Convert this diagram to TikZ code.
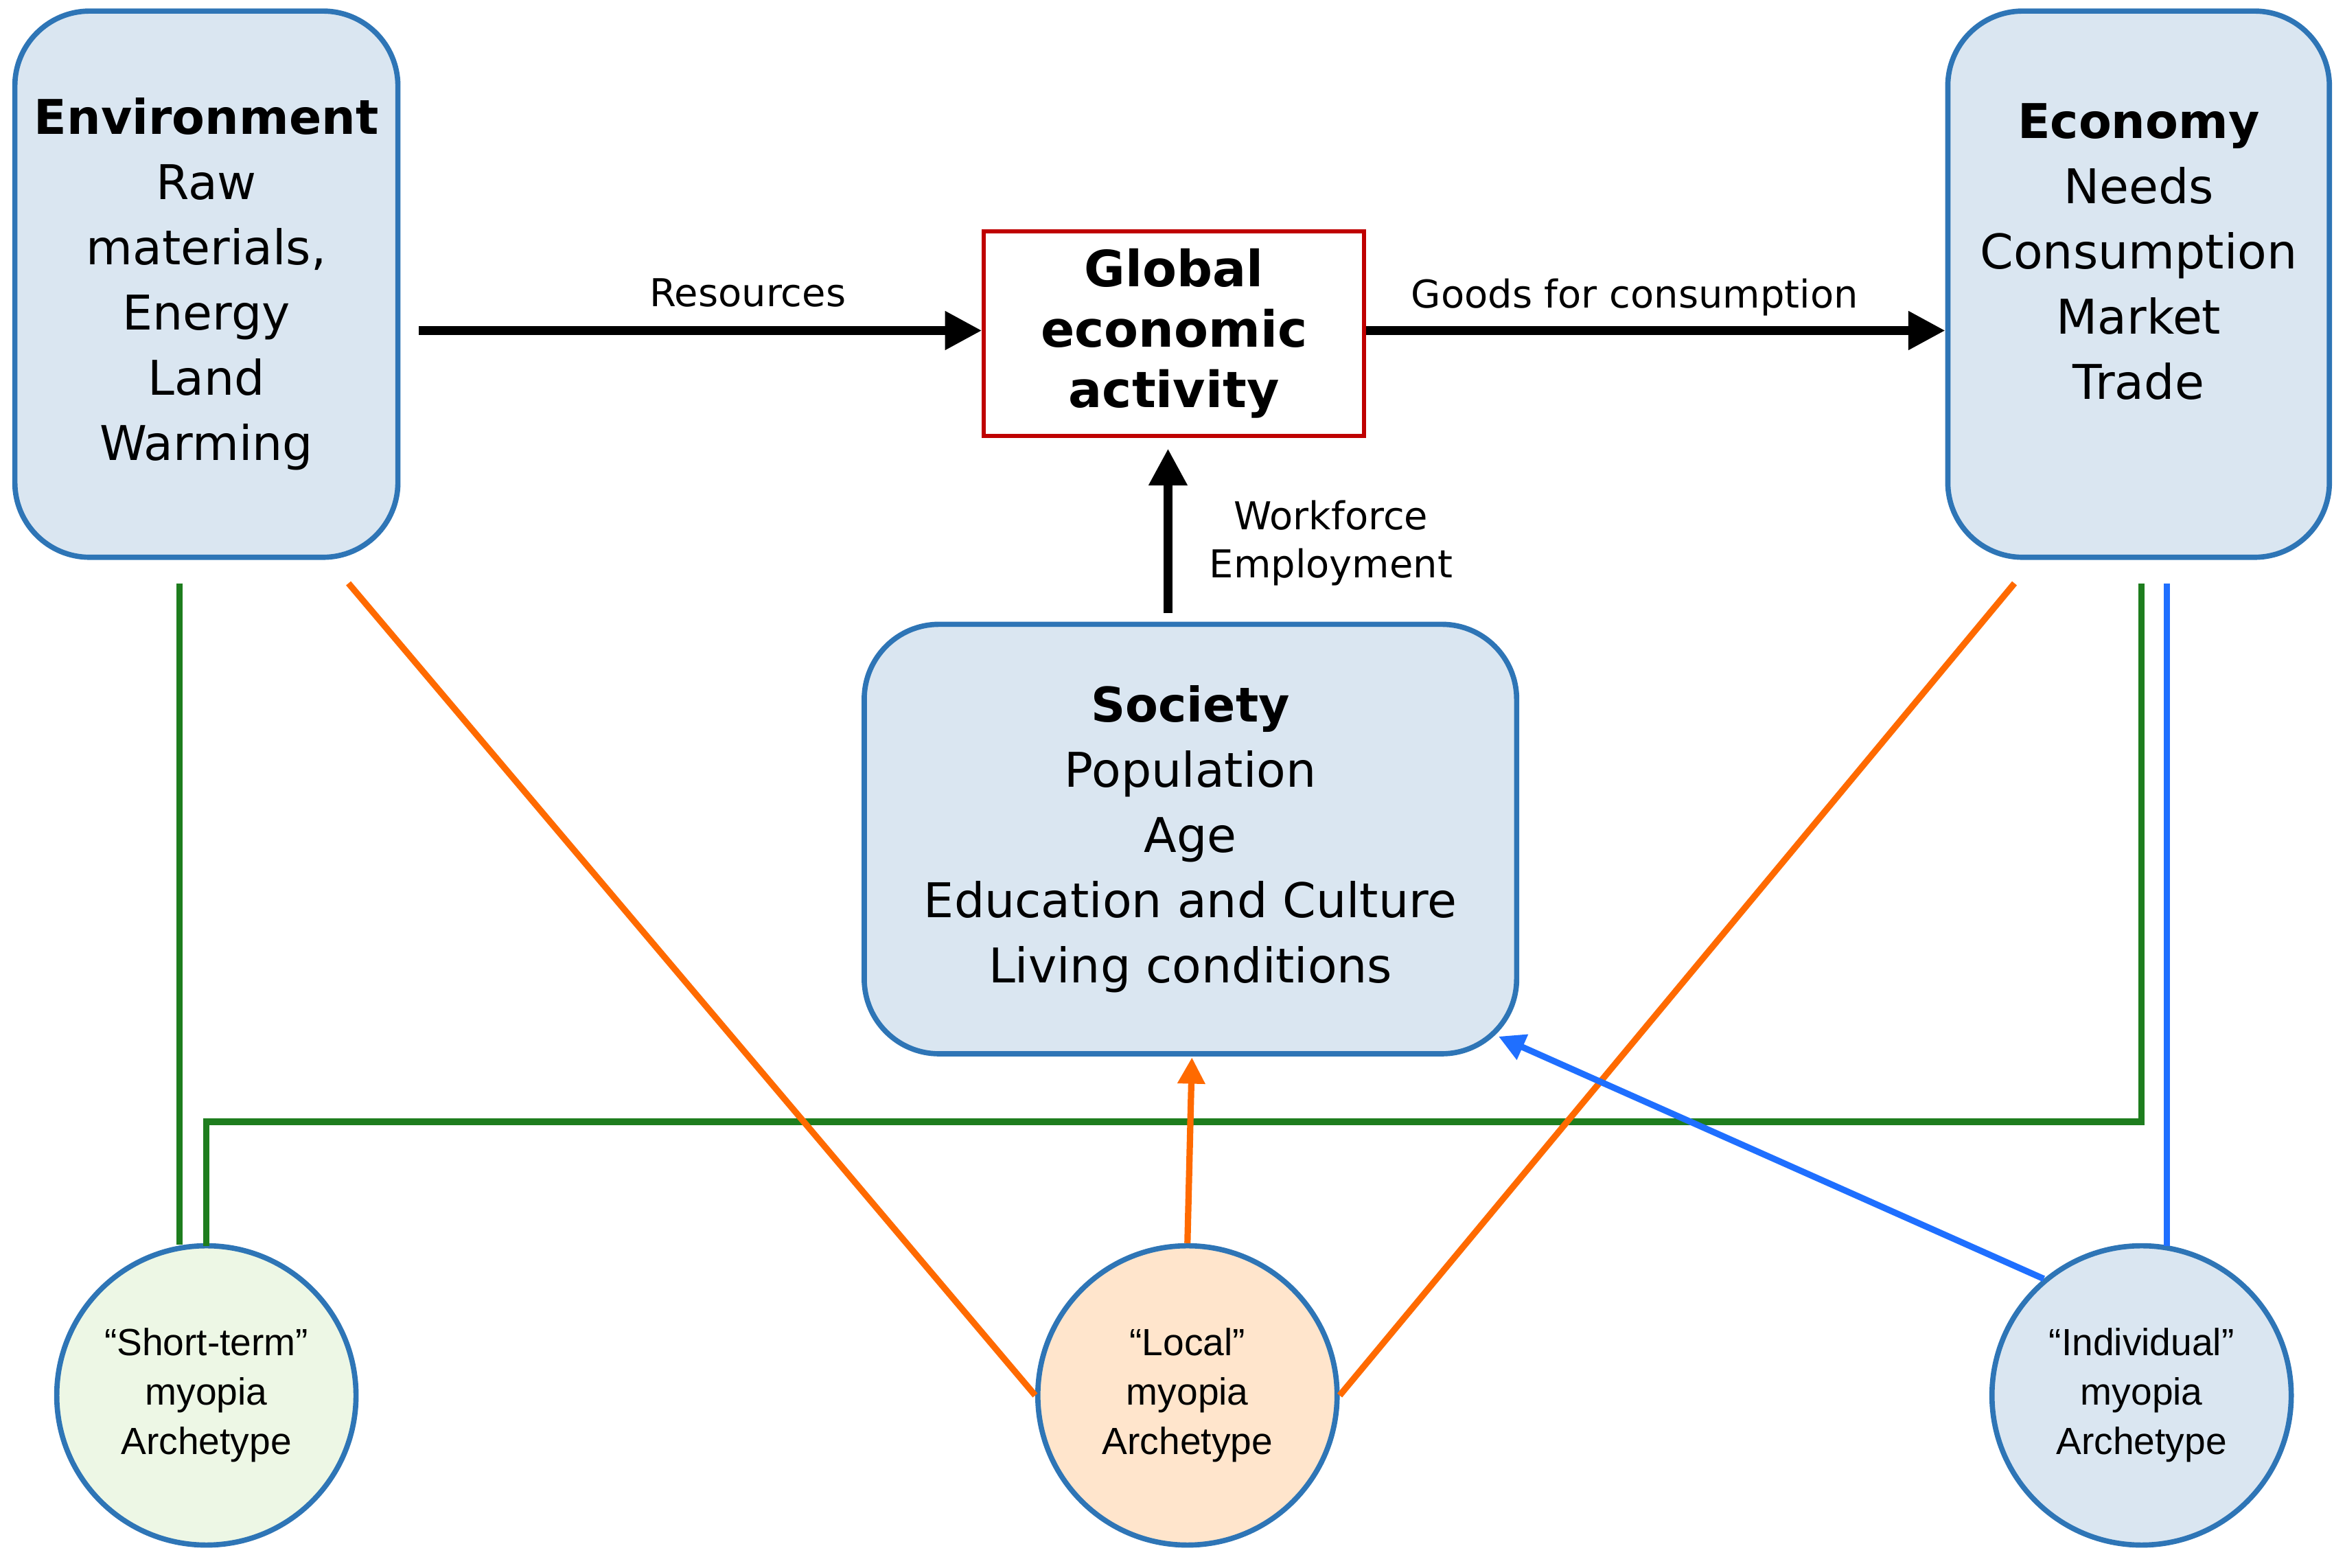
\documentclass[tikz,border=0pt]{standalone}
\usepackage{fontspec}
\setmainfont{DejaVu Sans}
\newfontfamily\arialf{Liberation Sans}
\usetikzlibrary{arrows.meta}
\definecolor{boxfill}{HTML}{DAE6F1}
\definecolor{boxline}{HTML}{2E75B6}
\definecolor{grn}{HTML}{1E7D1E}
\definecolor{org}{HTML}{FF6A00}
\definecolor{blu}{HTML}{1F6FFF}
\begin{document}
\begin{tikzpicture}[x=0.01cm,y=-0.01cm,
  bigbox/.style={draw=boxline,line width=1pt,fill=boxfill,rounded corners=0.5cm,align=center,font=\fontsize{9.1}{12.4}\selectfont},
  circ/.style={circle,draw=boxline,line width=1pt,minimum size=2cm,inner sep=0pt,align=center,font=\arialf\fontsize{7.2}{9.4}\selectfont},
  blk/.style={line width=1.6pt,-{Triangle[length=7pt,width=7pt]}},
  lbl/.style={font=\fontsize{7.3}{9.2}\selectfont,align=center},
  cl/.style={line width=1.2pt}]
\useasboundingbox (0,0) rectangle (1568,1048);
\node[bigbox,minimum width=2.56cm,minimum height=3.65cm] (env) at (138,190) {\textbf{Environment}\\Raw\\materials,\\Energy\\Land\\Warming};
\node[bigbox,minimum width=2.55cm,minimum height=3.65cm] (eco) at (1430,190) {\textbf{Economy}\\Needs\\Consumption\\Market\\Trade\\~};
\node[draw=red!75!black,line width=0.8pt,fill=white,minimum width=2.54cm,minimum height=1.31cm,align=center,font=\fontsize{9.5}{11.5}\selectfont\bfseries] (glob) at (785,223) {Global\\economic\\activity};
\node[bigbox,minimum width=4.36cm,minimum height=2.87cm] (soc) at (796,561) {\textbf{Society}\\Population\\Age\\Education and Culture\\Living conditions};
\node[circ,fill=green!40!olive!10] (st) at (138,933) {“Short-term”\\myopia\\Archetype};
\node[circ,fill=orange!20] (lo) at (794,933) {“Local”\\myopia\\Archetype};
\node[circ,fill=boxfill] (ind) at (1432,933) {“Individual”\\myopia\\Archetype};
% black arrows
\coordinate (r0) at (280,221);
\draw[blk] (r0) -- (r0 -| glob.west);
\node[lbl] (rl) at (500,196) {Resources};
\draw[blk] (r0 -| glob.east) -- (r0 -| eco.west);
\node[lbl] (gl) at (1093,199) {Goods for consumption};
\coordinate (w0) at (781,410);
\draw[blk] (w0) -- (781,300);
\node[lbl] (wl) at (890,363) {Workforce\\Employment};
% green
\draw[grn,cl] (120,390) -- (120,832);
\draw[grn,cl] (138,833) -- (138,750) -- (1432,750) -- (1432,390);
% orange
\draw[org,cl] (233,390) -- (lo.west);
\draw[org,cl] (1347,390) -- (lo.east);
\draw[org,cl,-{Triangle[length=5pt,width=5pt]}] (lo.north) -- (797,707);
% blue
\draw[blu,cl] (1449,390) -- (1449,833);
\draw[blu,cl,-{Triangle[length=5pt,width=5pt]}] (ind.130) -- (1002,693);
\end{tikzpicture}
\end{document}
